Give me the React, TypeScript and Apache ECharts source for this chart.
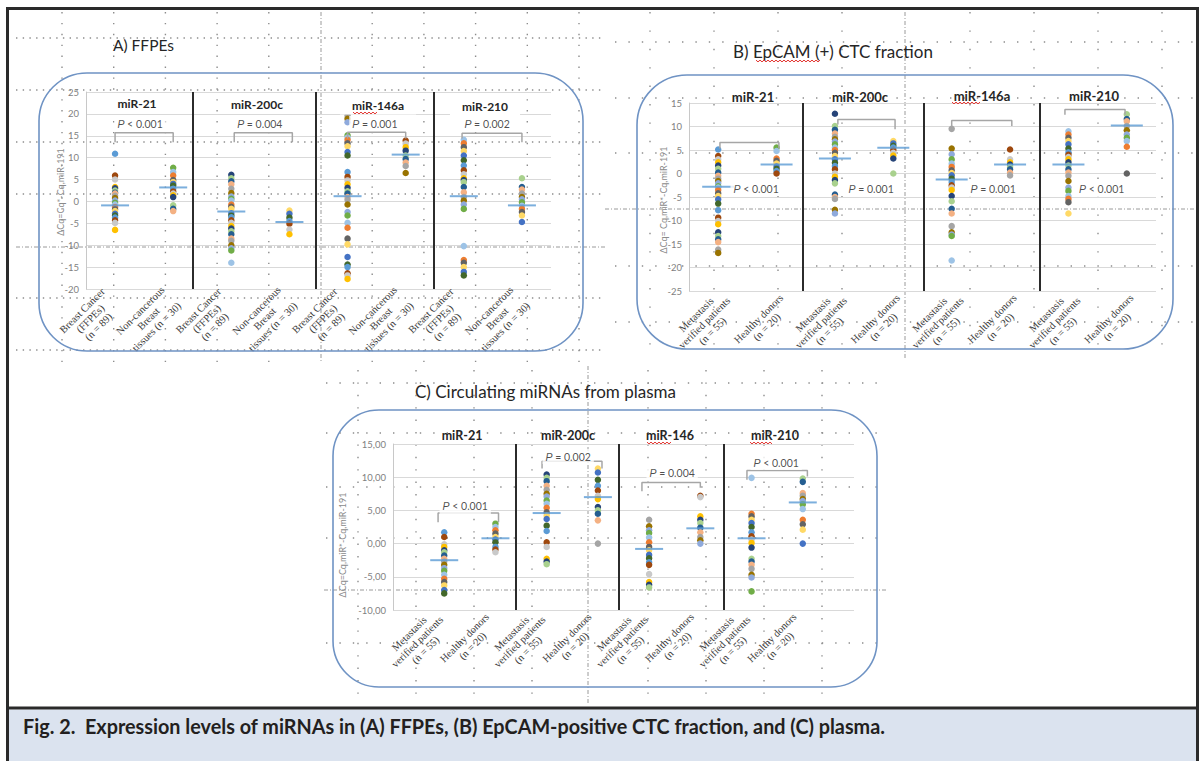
import { useEffect, useRef } from 'react';
import * as echarts from 'echarts';

// ---------------- DATA ----------------
const LABELS_FFPE = ['Breast Cancer\n(FFPEs)\n(n = 89)', 'Non-cancerous\nBreast\ntissues (n = 30)'];
const LABELS_PATIENTS = ['Metastasis\nverified patients\n(n = 55)', 'Healthy donors\n(n = 20)'];

const TITLES_A = ['miR-21', 'miR-200c', 'miR-146a', 'miR-210'];
const TITLES_B = ['miR-21', 'miR-200c', 'miR-146a', 'miR-210'];
const TITLES_C = ['miR-21', 'miR-200c', 'miR-146', 'miR-210'];

const P_A = ['P < 0.001', 'P = 0.004', 'P = 0.001', 'P = 0.002'];
const P_B = ['P < 0.001', 'P = 0.001', 'P = 0.001', 'P < 0.001'];
const P_C = ['P < 0.001', 'P = 0.002', 'P = 0.004', 'P < 0.001'];

// Panel A – FFPEs
const A_MIR21_CANCER = [10.9, 5.9, 5.0, 3.3, 3.0, 2.5, 2.0, 1.8, 1.3, 0.8, 0.2, -0.3, -0.7, -1.3, -1.8, -2.2, -2.8, -3.2, -3.7, -4.3, -4.9, -6.5];
const A_MIR21_NONCANCER = [7.7, 6.7, 5.9, 4.9, 4.4, 4.0, 3.6, 2.9, 2.3, 1.8, 1.4, 1.0, -0.9, -1.7, -2.2];
const A_MIR200C_CANCER = [6.1, 5.3, 4.6, 3.9, 2.9, 1.9, 1.1, 0.6, 0.2, -0.7, -1.2, -1.7, -2.7, -3.2, -3.6, -4.3, -4.9, -5.6, -6.2, -6.8, -7.5, -8.5, -9.0, -10.0, -10.7, -11.2, -14.0];
const A_MIR200C_NONCANCER = [-2.1, -2.8, -3.7, -4.5, -5.1, -6.4, -7.5];
const A_MIR146A_CANCER = [19.6, 18.9, 18.1, 15.1, 14.6, 14.1, 13.3, 12.6, 11.3, 10.5, 6.7, 5.6, 4.8, 3.9, 3.1, 2.3, 1.8, 1.0, 0.4, -0.7, -2.4, -3.2, -4.9, -6.0, -8.5, -9.8, -12.7, -14.4, -15.0, -16.4, -16.9, -17.7];
const A_MIR146A_NONCANCER = [13.9, 13.2, 12.4, 11.6, 10.5, 9.7, 8.9, 8.1, 6.5];
const A_MIR210_CANCER = [14.1, 13.3, 12.4, 11.5, 10.5, 9.4, 8.2, 7.1, 6.2, 5.3, 4.9, 4.4, 3.3, 2.1, 1.0, 0.2, -0.7, -1.7, -10.2, -13.4, -14.0, -15.0, -16.1, -16.9];
const A_MIR210_NONCANCER = [5.3, 3.3, 2.7, 1.8, 1.0, 0.5, -0.2, -1.0, -1.7, -2.4, -3.2, -4.7];
const A_MEANS = [-0.9, 3.2, -2.3, -4.7, 1.2, 10.7, 1.2, -0.9];
const A_BRACKETS = [[1, 2, 15.7, 13.5, 13.5], [3.05, 4.05, 15.7, 13.5, 13.5], [5, 6, 15.8, 14.4, 14.4], [6.97, 8, 15.6, 14.4, 13.5]];
const A_P_POS = [[1.43, 17.8], [3.49, 17.8], [5.47, 17.8], [7.4, 17.8]];
const A_SEPARATORS = [2.34, 4.46, 6.49];

// Panel B – EpCAM (+) CTC fraction
const B_MIR21_MET = [5.1, 3.7, 3.0, 2.4, 1.7, 1.0, 0.2, -0.5, -1.1, -1.6, -2.1, -2.7, -3.0, -3.5, -4.2, -4.8, -5.5, -6.4, -7.8, -9.4, -10.1, -10.8, -12.5, -13.3, -14.0, -14.6, -16.2, -16.9];
const B_MIR21_HD = [5.5, 4.8, 3.2, 2.7, 2.1, 1.5, 1.0, 0.5, 0.0];
const B_MIR200C_MET = [12.7, 10.1, 9.3, 8.5, 7.8, 7.3, 6.8, 6.2, 5.5, 5.0, 4.4, 3.7, 3.0, 2.3, 1.6, 0.9, 0.0, -0.7, -1.4, -2.1, -4.5, -5.0, -5.4, -7.7, -8.5];
const B_MIR200C_HD = [6.9, 6.4, 5.9, 5.5, 5.0, 4.4, 3.8, 3.2, 0.0];
const B_MIR146A_MET = [9.5, 5.3, 4.1, 3.0, 2.1, 1.4, 0.7, 0.1, -0.4, -1.1, -1.8, -2.5, -3.0, -3.5, -4.8, -5.9, -7.5, -8.5, -11.2, -12.5, -13.0, -13.3, -18.5];
const B_MIR146A_HD = [5.1, 3.0, 2.4, 1.9, 1.4, 0.9, 0.2, -0.4];
const B_MIR210_MET = [9.0, 8.3, 7.6, 6.9, 6.2, 5.3, 4.5, 4.0, 3.5, 3.0, 2.4, 1.7, 0.9, 0.2, -0.5, -1.6, -3.0, -3.7, -4.8, -5.4, -6.1, -8.5];
const B_MIR210_HD = [12.6, 11.6, 11.1, 10.1, 9.2, 8.3, 7.6, 6.9, 5.7, 0.0];
const B_MEANS = [-2.8, 1.9, 3.2, 5.5, -1.3, 1.9, 1.9, 10.2];
const B_BRACKETS = [[1.03, 2.04, 6.6, 5.3, 5.3], [3.05, 4.03, 11.5, 10.4, 9.4], [5.0, 6.03, 11.3, 10.1, 10.1], [6.94, 7.97, 13.6, 12.5, 12.5]];
const B_P_POS = [[1.65, -3.2], [3.62, -3.2], [5.71, -3.4], [7.57, -3.4]];
const B_SEPARATORS = [2.45, 4.52, 6.51];

// Panel C – circulating miRNAs from plasma
const C_MIR21_MET = [1.7, 1.0, -0.1, -0.5, -1.0, -1.3, -1.8, -2.3, -2.7, -3.2, -3.7, -4.1, -4.7, -5.3, -5.8, -6.3, -7.0, -7.5];
const C_MIR21_HD = [3.0, 2.5, 2.0, 1.5, 1.0, 0.6, 0.2, -0.5, -0.9, -1.3];
const C_MIR200C_MET = [10.4, 9.9, 9.4, 8.7, 8.1, 7.5, 7.1, 6.5, 6.0, 5.4, 4.7, 4.2, 3.7, 2.7, 1.9, 0.2, -0.5, -2.3, -2.7, -3.1];
const C_MIR200C_HD = [11.3, 10.7, 9.6, 8.7, 8.0, 7.2, 6.7, 5.5, 5.0, 4.5, 3.5, 0.0];
const C_MIR146_MET = [3.6, 2.6, 2.0, 1.6, 0.9, 0.2, -0.5, -1.0, -1.7, -2.2, -2.8, -3.2, -4.6, -5.8, -6.2, -6.6];
const C_MIR146_HD = [7.2, 7.0, 4.1, 3.6, 3.1, 2.4, 1.7, 1.0, 0.5, 0.0];
const C_MIR210_MET = [9.9, 4.5, 4.1, 3.6, 3.1, 2.5, 1.7, 1.1, 0.6, 0.1, -0.6, -2.3, -2.7, -3.2, -3.8, -4.7, -5.1, -7.2];
const C_MIR210_HD = [9.8, 9.3, 7.6, 7.2, 6.7, 6.4, 5.9, 5.2, 3.6, 2.9, 2.1, 0.0];
const C_MEANS = [-2.5, 0.8, 4.6, 7.0, -0.8, 2.3, 0.8, 6.2];
const C_BRACKETS = [[0.88, 2.06, 4.6, 3.2, 3.2], [2.91, 4.08, 12.4, 11.3, 11.3], [4.86, 6.0, 9.2, 7.9, 8.4], [6.91, 8.09, 11.0, 9.6, 10.1]];
const C_P_POS = [[1.41, 5.6], [3.42, 13.1], [5.45, 10.6], [7.48, 12.2]];
const C_SEPARATORS = [2.4, 4.41, 6.45];

// ---------------- STYLE ----------------
const PALETTE = ['#5B9BD5', '#ED7D31', '#A5A5A5', '#FFC000', '#4472C4', '#70AD47', '#255E91', '#9E480E', '#636363', '#997300', '#264478', '#43682B', '#9DC3E6', '#F4B183', '#C9C9C9', '#FFD966', '#8FAADC', '#A9D18E'];
const MEAN_COLOR = '#5B9BD5';
const BOX_COLOR = '#6f93c4';

type PanelCfg = {
  grid: { left: number; top: number; width: number; height: number };
  labelShift: number;
  y: number[];
  comma: boolean;
  labels: string[];
  boundaryGap: boolean;
  xRange: number[];
  groups: number[][];
  means: number[];
  brackets: number[][];
  pTexts: string[];
  pPos: number[][];
  seps: number[];
  meanW: number;
  labelW: number;
};

const PANELS: PanelCfg[] = [
  {
    grid: { left: 86, top: 92, width: 465, height: 197 }, labelShift: 0,
    y: [-20, 25, 5], comma: false,
    labels: [...LABELS_FFPE, ...LABELS_FFPE, ...LABELS_FFPE, ...LABELS_FFPE],
    boundaryGap: true, xRange: [0.5, 8.5],
    groups: [A_MIR21_CANCER, A_MIR21_NONCANCER, A_MIR200C_CANCER, A_MIR200C_NONCANCER, A_MIR146A_CANCER, A_MIR146A_NONCANCER, A_MIR210_CANCER, A_MIR210_NONCANCER],
    means: A_MEANS, brackets: A_BRACKETS, pTexts: P_A, pPos: A_P_POS, seps: A_SEPARATORS, meanW: 28, labelW: 70,
  },
  {
    grid: { left: 689, top: 103, width: 467, height: 188 }, labelShift: 13,
    y: [-25, 15, 5], comma: false,
    labels: [...LABELS_PATIENTS, ...LABELS_PATIENTS, ...LABELS_PATIENTS, ...LABELS_PATIENTS],
    boundaryGap: true, xRange: [0.5, 8.5],
    groups: [B_MIR21_MET, B_MIR21_HD, B_MIR200C_MET, B_MIR200C_HD, B_MIR146A_MET, B_MIR146A_HD, B_MIR210_MET, B_MIR210_HD],
    means: B_MEANS, brackets: B_BRACKETS, pTexts: P_B, pPos: B_P_POS, seps: B_SEPARATORS, meanW: 32, labelW: 76,
  },
  {
    grid: { left: 393, top: 444, width: 461, height: 166 }, labelShift: 0,
    y: [-10, 15, 5], comma: true,
    labels: ['', ...LABELS_PATIENTS, ...LABELS_PATIENTS, ...LABELS_PATIENTS, ...LABELS_PATIENTS, ''],
    boundaryGap: false, xRange: [0, 9],
    groups: [C_MIR21_MET, C_MIR21_HD, C_MIR200C_MET, C_MIR200C_HD, C_MIR146_MET, C_MIR146_HD, C_MIR210_MET, C_MIR210_HD],
    means: C_MEANS, brackets: C_BRACKETS, pTexts: P_C, pPos: C_P_POS, seps: C_SEPARATORS, meanW: 28, labelW: 76,
  },
];

function buildOption() {
  const grid: any[] = [];
  const xAxis: any[] = [];
  const yAxis: any[] = [];
  const series: any[] = [];

  // data grids first (index 0..2), then label grids (3..5)
  PANELS.forEach((p, pi) => {
    grid.push({ ...p.grid });
    xAxis.push({ gridIndex: pi, type: 'value', min: p.xRange[0], max: p.xRange[1], show: false });
    yAxis.push({
      gridIndex: pi, type: 'value', min: p.y[0], max: p.y[1], interval: p.y[2],
      axisLine: { show: true, lineStyle: { color: '#c8c8c8', width: 1 } },
      axisTick: { show: false },
      splitLine: { show: true, lineStyle: { color: '#d9d9d9', width: 1 } },
      axisLabel: {
        fontFamily: 'Lato', fontSize: 9.5, color: '#7f7f7f', margin: 7,
        formatter: (v: number) => (p.comma ? v.toFixed(2).replace('.', ',') : String(v)),
      },
    });
  });
  PANELS.forEach((p, pi) => {
    const gi = PANELS.length + pi;
    grid.push({ ...p.grid, left: p.grid.left + p.labelShift });
    xAxis.push({
      gridIndex: gi, type: 'category', data: p.labels, boundaryGap: p.boundaryGap,
      axisLine: { show: false }, axisTick: { show: false }, splitLine: { show: false },
      axisLabel: {
        interval: 0, rotate: 45, margin: 5,
        formatter: (v: string) => (v ? v.split('\n').map((l) => `{a|${l}}`).join('\n') : ''),
        rich: { a: { width: p.labelW, align: 'center', fontFamily: 'Liberation Serif', fontSize: 10.5, lineHeight: 11.5, color: '#3a3a3a' } },
      },
    });
    yAxis.push({ gridIndex: gi, type: 'value', show: false, min: 0, max: 1 });
  });

  PANELS.forEach((p, pi) => {
    const xi = pi;
    p.groups.forEach((vals, g) => {
      series.push({
        type: 'scatter', xAxisIndex: xi, yAxisIndex: pi, symbol: 'circle', symbolSize: 6.5, z: 3, silent: true,
        data: vals.map((v) => [g + 1, v]),
        itemStyle: { opacity: 1, color: (prm: any) => PALETTE[(prm.dataIndex * 7 + g * 5) % PALETTE.length] },
      });
    });
    series.push({
      type: 'scatter', xAxisIndex: xi, yAxisIndex: pi, symbol: 'rect', symbolSize: [p.meanW, 2], z: 5, silent: true,
      data: p.means.map((m, i) => [i + 1, m]),
      itemStyle: { color: MEAN_COLOR },
      markLine: {
        silent: true, symbol: ['none', 'none'], label: { show: false },
        lineStyle: { color: '#2b2b2b', width: 2, type: 'solid' },
        data: p.seps.map((s) => ({ xAxis: s })),
      },
    });
    p.brackets.forEach((b) => {
      series.push({
        type: 'line', xAxisIndex: xi, yAxisIndex: pi, symbol: 'none', z: 4, silent: true,
        data: [[b[0], b[3]], [b[0], b[2]], [b[1], b[2]], [b[1], b[4]]],
        lineStyle: { color: '#a6a6a6', width: 1.5 },
      });
    });
    series.push({
      type: 'scatter', xAxisIndex: xi, yAxisIndex: pi, symbolSize: 1, z: 6, silent: true,
      itemStyle: { color: 'rgba(0,0,0,0)' },
      data: p.pTexts.map((t, i) => ({ name: t, value: p.pPos[i] })),
      label: {
        show: true, position: 'inside', backgroundColor: '#ffffff', padding: [2, 3],
        formatter: (prm: any) => `{i|P}{n|${prm.name.slice(1)}}`,
        rich: {
          i: { fontFamily: 'Liberation Sans', fontStyle: 'italic', fontSize: 10.5, color: '#1f1f1f' },
          n: { fontFamily: 'Lato', fontSize: 10.5, color: '#1f1f1f' },
        },
      },
    });
  });

  // ---------- decorative graphics ----------
  const gfx: any[] = [];
  const dotted = (x1: number, y1: number, x2: number, y2: number, gap: number) => ({
    type: 'line', silent: true, z: 0,
    shape: { x1, y1, x2, y2 },
    style: { stroke: '#8d8d8d', lineWidth: 1.4, lineDash: [1.4, gap] },
  });
  const guide = (x1: number, y1: number, x2: number, y2: number) => ({
    type: 'line', silent: true, z: 0,
    shape: { x1, y1, x2, y2 },
    style: { stroke: '#9a9a9a', lineWidth: 1, lineDash: [4, 2, 1, 2] },
  });
  // panel A grid
  for (let k = 0; k < 11; k++) { const x = 62 + 51.7 * k; if (Math.abs(x - 321) > 5) gfx.push(dotted(x, 12, x, 362, 9.5)); }
  [38, 90, 142, 194, 298, 350].forEach((y) => gfx.push(dotted(16, y, 603, y, 5.3)));
  gfx.push(guide(321, 12, 321, 362), guide(16, 247, 605, 247));
  // panel B grid
  for (let k = 0; k < 9; k++) { const x = 650 + 64 * k; if (Math.abs(x - 905) > 5) gfx.push(dotted(x, 12, x, 360, 17)); }
  [42, 98, 153, 266, 322].forEach((y) => gfx.push(dotted(615, y, 1196, y, 12)));
  gfx.push(guide(905, 12, 905, 360), guide(605, 209, 1196, 209));
  // panel C grid
  for (let k = 0; k < 9; k++) { const x = 358 + 58 * k; if (Math.abs(x - 588) > 5) gfx.push(dotted(x, 370, x, 700, 11)); }
  [383, 433, 487, 538, 643].forEach((y) => gfx.push(dotted(326, y, 884, y, 12)));
  gfx.push(guide(588, 366, 588, 705), guide(324, 590, 886, 590));

  // rounded panel frames
  const box = (x: number, y: number, w: number, h: number, r: number) => ({
    type: 'rect', silent: true, z: 1, shape: { x, y, width: w, height: h, r },
    style: { fill: 'none', stroke: BOX_COLOR, lineWidth: 1.6 },
  });
  gfx.push(box(39, 73, 544, 278, 48), box(637, 75, 536, 274, 50), box(333, 410, 544, 277, 46));

  // panel titles
  const txt = (text: string, x: number, y: number, size: number, weight: string, align = 'left', extra: any = {}) => ({
    type: 'text', x, y, z: 10, silent: true,
    style: { text, fontFamily: 'Lato', fontSize: size, fontWeight: weight, fill: '#262626', align, verticalAlign: 'middle', ...extra },
  });
  gfx.push(txt('A) FFPEs', 113, 45, 15.5, 'normal'));
  gfx.push(txt('B) EpCAM (+) CTC fraction', 733, 51, 17, 'normal'));
  gfx.push(txt('C) Circulating miRNAs from plasma', 415, 391, 17, 'normal'));

  // sub-chart titles
  const A_T_POS = [[137, 103], [257, 104], [378, 105], [485, 106]];
  const B_T_POS = [[753, 97], [860, 97], [982, 96], [1094, 96]];
  const C_T_POS = [[462, 435], [568, 435], [670, 435], [775, 435]];
  TITLES_A.forEach((t, i) => gfx.push(txt(t, A_T_POS[i][0], A_T_POS[i][1], 12, 'bold', 'center', { backgroundColor: '#fff', padding: [2, 12, 5, 12] })));
  TITLES_B.forEach((t, i) => gfx.push(txt(t, B_T_POS[i][0], B_T_POS[i][1], 13, 'bold', 'center')));
  TITLES_C.forEach((t, i) => gfx.push(txt(t, C_T_POS[i][0], C_T_POS[i][1], 12.5, 'bold', 'center')));

  // y-axis names
  const yName = (text: string, x: number, y: number) => ({
    type: 'text', x, y, rotation: Math.PI / 2, z: 10, silent: true,
    style: { text, fontFamily: 'Lato', fontSize: 9, fill: '#8a8a8a', align: 'center', verticalAlign: 'middle' },
  });
  gfx.push(yName('ΔCq=Cq*-Cq,miR-191', 60, 192));
  gfx.push(yName('ΔCq= Cq,miR*-Cq,miR-191', 663, 200));
  gfx.push(yName('ΔCq=Cq,miR*-Cq,miR-191', 342, 545));

  // spell-check squiggles
  const wavy = (x1: number, x2: number, y: number) => {
    const pts: number[][] = [];
    let up = true;
    for (let x = x1; x <= x2; x += 2) { pts.push([x, y + (up ? -0.9 : 0.9)]); up = !up; }
    return { type: 'polyline', silent: true, z: 11, shape: { points: pts }, style: { stroke: '#e2342f', lineWidth: 1, fill: 'none' } };
  };
  gfx.push(wavy(756, 820, 61), wavy(353, 377, 113), wavy(952, 980, 103), wavy(647, 672, 443), wavy(750, 773, 443));

  // outer frame & caption
  gfx.push({ type: 'rect', silent: true, z: 12, shape: { x: 9, y: 709.5, width: 1188, height: 60 }, style: { fill: '#dbe3ef' } });
  gfx.push({ type: 'line', silent: true, z: 13, shape: { x1: 7, y1: 708, x2: 1198, y2: 708 }, style: { stroke: '#2a2a2a', lineWidth: 3 } });
  gfx.push({ type: 'rect', silent: true, z: 13, shape: { x: 7.5, y: 8.5, width: 1190, height: 760 }, style: { fill: 'none', stroke: '#2a2a2a', lineWidth: 3 } });
  gfx.push({
    type: 'text', x: 23, y: 726, z: 14, silent: true, scaleX: 0.99,
    style: {
      text: 'Fig. 2.  Expression levels of miRNAs in (A) FFPEs, (B) EpCAM-positive CTC fraction, and (C) plasma.',
      fontFamily: 'Lato', fontSize: 20, fontWeight: 'bold', fill: '#231f20', align: 'left', verticalAlign: 'middle',
    },
  });

  return { animation: false, backgroundColor: '#ffffff', grid, xAxis, yAxis, series, graphic: gfx };
}

export default function App() {
  const ref = useRef<HTMLDivElement>(null);
  useEffect(() => {
    document.body.style.margin = '0';
    if (!ref.current) return;
    const chart = echarts.init(ref.current, null, { renderer: 'svg' });
    chart.setOption(buildOption() as any);
    return () => chart.dispose();
  }, []);
  return <div ref={ref} style={{ width: 1201, height: 761 }} />;
}
